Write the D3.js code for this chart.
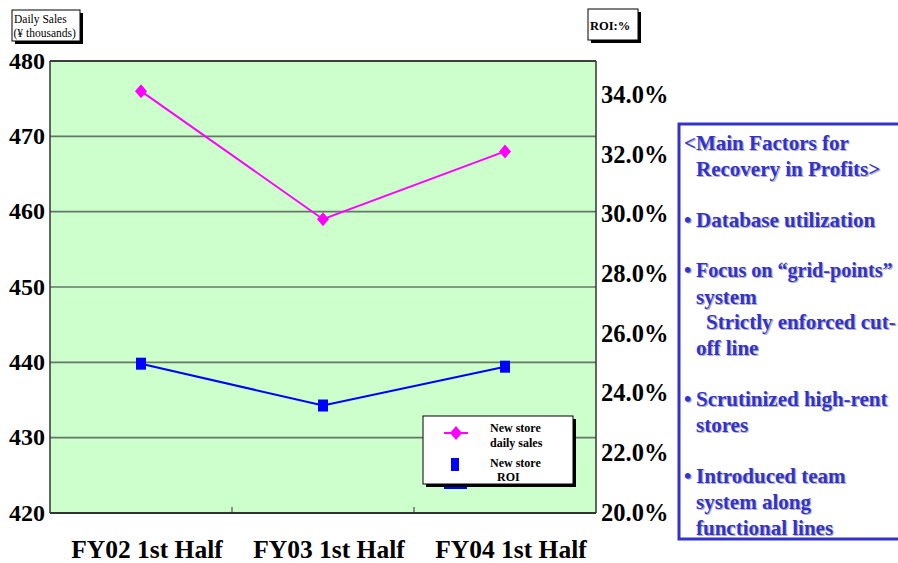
<!DOCTYPE html>
<html>
<head>
<meta charset="utf-8">
<script src="https://cdn.jsdelivr.net/npm/d3@7"></script>
<style>
  html, body { margin: 0; padding: 0; background: #fff; }
  svg { display: block; font-family: "Liberation Serif", "Times New Roman", serif; }
</style>
</head>
<body>
<svg id="chart" width="898" height="563"></svg>
<script>
// Periods and the two series
const periods = ["FY02 1st Half", "FY03 1st Half", "FY04 1st Half"];
const dailySales = [476, 459, 468];          // ¥ thousands
const roi = [25.0, 23.6, 24.9];              // %
const salesTicks = [420, 430, 440, 450, 460, 470, 480];
const roiTicks = [20, 22, 24, 26, 28, 30, 32, 34];
const factorLines = [
  { text: "<Main Factors for", x: 684, y: 150 },
  { text: "Recovery in Profits>", x: 696, y: 176 },
  { text: "Database utilization", x: 696, y: 227, bullet: true },
  { text: "Focus on “grid-points”", x: 696, y: 277, bullet: true, size: 20.1 },
  { text: "system", x: 696, y: 304 },
  { text: "Strictly enforced cut-", x: 706, y: 329 },
  { text: "off line", x: 696, y: 355 },
  { text: "Scrutinized high-rent", x: 696, y: 406, bullet: true },
  { text: "stores", x: 696, y: 432 },
  { text: "Introduced team", x: 696, y: 483, bullet: true },
  { text: "system along", x: 696, y: 509 },
  { text: "functional lines", x: 696, y: 535 }
];

const svg = d3.select("#chart");
const plot = { left: 50, right: 596, top: 61, bottom: 513 };

const x = d3.scaleBand().domain(periods).range([plot.left, plot.right]);
const ySales = d3.scaleLinear().domain([420, 480]).range([plot.bottom, plot.top]);
const yRoi = d3.scaleLinear().domain([20, 20 + (plot.bottom - plot.top) / 29.86]).range([plot.bottom, plot.top]);

// plot background
svg.append("rect")
  .attr("x", plot.left).attr("y", plot.top)
  .attr("width", plot.right - plot.left).attr("height", plot.bottom - plot.top)
  .attr("fill", "#ccffcc");

// horizontal gridlines
svg.append("g")
  .selectAll("line")
  .data(salesTicks.filter(t => t > 420 && t < 480))
  .join("line")
  .attr("x1", plot.left).attr("x2", plot.right)
  .attr("y1", d => ySales(d)).attr("y2", d => ySales(d))
  .attr("stroke", "#667766").attr("stroke-width", 1.6);

// frame
svg.append("line").attr("x1", plot.left).attr("x2", plot.right)
  .attr("y1", plot.top).attr("y2", plot.top).attr("stroke", "#000").attr("stroke-width", 1.5);
svg.append("line").attr("x1", plot.left).attr("x2", plot.right)
  .attr("y1", plot.bottom).attr("y2", plot.bottom).attr("stroke", "#333").attr("stroke-width", 2);
svg.append("line").attr("x1", plot.left).attr("x2", plot.left)
  .attr("y1", plot.top).attr("y2", plot.bottom).attr("stroke", "#333").attr("stroke-width", 1.5);
svg.append("line").attr("x1", plot.right).attr("x2", plot.right)
  .attr("y1", plot.top).attr("y2", plot.bottom).attr("stroke", "#333").attr("stroke-width", 1.5);

// category tick marks between bands
svg.append("g")
  .selectAll("line")
  .data(periods.slice(1))
  .join("line")
  .attr("x1", d => x(d)).attr("x2", d => x(d))
  .attr("y1", plot.bottom).attr("y2", plot.bottom - 6)
  .attr("stroke", "#333").attr("stroke-width", 1);

// left axis labels
const leftAxis = d3.axisLeft(ySales).tickValues(salesTicks).tickSize(0).tickPadding(5);
const gl = svg.append("g").attr("transform", `translate(${plot.left},0)`).call(leftAxis);
gl.select(".domain").remove();
gl.selectAll("text")
  .attr("font-family", "Liberation Serif, Times New Roman, serif")
  .attr("font-weight", "bold").attr("font-size", 24).attr("fill", "#000")
  .attr("dy", "0.3em");

// right axis labels
const rightAxis = d3.axisRight(yRoi).tickValues(roiTicks).tickSize(0).tickPadding(5)
  .tickFormat(d => d.toFixed(1) + "%");
const gr = svg.append("g").attr("transform", `translate(${plot.right},0)`).call(rightAxis);
gr.select(".domain").remove();
gr.selectAll("text")
  .attr("font-family", "Liberation Serif, Times New Roman, serif")
  .attr("font-weight", "bold").attr("font-size", 24.5).attr("fill", "#000")
  .attr("dy", "0.3em");

// category labels
svg.append("g")
  .selectAll("text")
  .data(periods)
  .join("text")
  .attr("x", d => x(d) + x.bandwidth() / 2 + 6)
  .attr("y", 558)
  .attr("text-anchor", "middle")
  .attr("font-weight", "bold").attr("font-size", 25.5)
  .text(d => d);

const cx = d => x(d) + x.bandwidth() / 2;

// daily sales line + diamonds
svg.append("path")
  .datum(dailySales)
  .attr("fill", "none").attr("stroke", "#ff00ff").attr("stroke-width", 2)
  .attr("d", d3.line().x((d, i) => cx(periods[i])).y(d => ySales(d)));
const diamond = "M0,-7 L6,0 L0,7 L-6,0 Z";
svg.append("g").selectAll("path")
  .data(dailySales)
  .join("path")
  .attr("transform", (d, i) => `translate(${cx(periods[i])},${ySales(d)})`)
  .attr("d", diamond).attr("fill", "#ff00ff");

// ROI line + squares
svg.append("path")
  .datum(roi)
  .attr("fill", "none").attr("stroke", "#0000ff").attr("stroke-width", 2)
  .attr("d", d3.line().x((d, i) => cx(periods[i])).y(d => yRoi(d)));
svg.append("g").selectAll("rect")
  .data(roi)
  .join("rect")
  .attr("x", (d, i) => cx(periods[i]) - 5)
  .attr("y", d => yRoi(d) - 6)
  .attr("width", 10).attr("height", 12)
  .attr("fill", "#0000ff");

// axis title boxes with drop shadow
function titleBox(bx, by, w, h, lines, size) {
  svg.append("rect").attr("x", bx + 3).attr("y", by + 3).attr("width", w).attr("height", h).attr("fill", "#000");
  svg.append("rect").attr("x", bx).attr("y", by).attr("width", w).attr("height", h)
    .attr("fill", "#fff").attr("stroke", "#000").attr("stroke-width", 1);
  lines.forEach(l => {
    svg.append("text").attr("x", l.x).attr("y", l.y)
      .attr("font-size", l.size || size).attr("font-weight", l.bold ? "bold" : "normal").text(l.t);
  });
}
titleBox(12, 10, 68, 31, [
  { t: "Daily Sales", x: 14, y: 23 },
  { t: "(¥ thousands)", x: 13.5, y: 37 }
], 11.5);
titleBox(588, 9, 50, 31, [
  { t: "ROI:%", x: 590, y: 30, bold: true }
], 12.5);

// legend
const lg = svg.append("g");
lg.append("rect").attr("x", 426).attr("y", 419).attr("width", 150).attr("height", 68).attr("fill", "#000");
lg.append("line").attr("x1", 444).attr("x2", 467).attr("y1", 488).attr("y2", 488)
  .attr("stroke", "#0000ff").attr("stroke-width", 2);
lg.append("rect").attr("x", 423).attr("y", 416).attr("width", 150).attr("height", 68)
  .attr("fill", "#fff").attr("stroke", "#000").attr("stroke-width", 1);
lg.append("line").attr("x1", 444).attr("x2", 468).attr("y1", 433).attr("y2", 433)
  .attr("stroke", "#ff00ff").attr("stroke-width", 2);
lg.append("path").attr("transform", "translate(456,433)").attr("d", diamond).attr("fill", "#ff00ff");
lg.append("rect").attr("x", 451).attr("y", 458).attr("width", 8).attr("height", 13).attr("fill", "#0000ff");
[
  { t: "New store", x: 490, y: 432 },
  { t: "daily sales", x: 490, y: 447 },
  { t: "New store", x: 490, y: 467 },
  { t: "ROI", x: 497, y: 481 }
].forEach(l => {
  lg.append("text").attr("x", l.x).attr("y", l.y).attr("font-size", 12)
    .attr("font-weight", "bold").text(l.t);
});

// side panel listing the main factors
const panel = svg.append("g");
panel.append("rect").attr("x", 679).attr("y", 124).attr("width", 240).attr("height", 415)
  .attr("fill", "#fff").attr("stroke", "#3333cc").attr("stroke-width", 3);
function drawLines(cls, dx, fill) {
  panel.selectAll("text." + cls)
    .data(factorLines)
    .join("text")
    .attr("class", cls)
    .attr("x", d => d.x + dx).attr("y", d => d.y + dx)
    .attr("font-size", d => d.size || 21).attr("font-weight", "bold").attr("fill", fill)
    .text(d => d.text);
  panel.selectAll("text." + cls + "-bullet")
    .data(factorLines.filter(d => d.bullet))
    .join("text")
    .attr("class", cls + "-bullet")
    .attr("x", 684 + dx).attr("y", d => d.y + dx)
    .attr("font-size", 21).attr("font-weight", "bold").attr("fill", fill)
    .text("•");
}
drawLines("shadow", 1.2, "#b0b0c8");
drawLines("main", 0, "#3333cc");
</script>
</body>
</html>
